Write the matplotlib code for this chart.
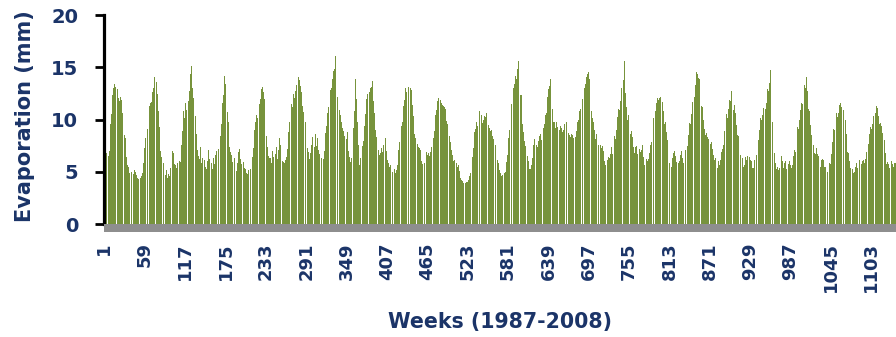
import numpy as np
import matplotlib
matplotlib.use("Agg")
import matplotlib.pyplot as plt
from matplotlib.patches import Rectangle

# Weekly pan evaporation (mm), one list of 52 weeks per year
evap_1987 = [6.2, 6.6, 6.4, 6.8, 6.7, 6.9, 6.5, 7.0, 7.4, 9.6, 10.5, 11.4, 12.3, 13.0, 12.6, 13.4, 13.1, 13.9, 13.3, 12.9, 12.1, 12.5, 11.8, 12.2, 11.5, 11.9, 10.6, 9.4, 8.8, 8.5, 8.2, 7.6, 6.4, 5.6, 5.3, 5.5, 4.9, 5.2, 5.4, 5.0, 5.3, 5.1, 4.8, 5.2, 4.9, 5.0, 4.7, 4.6, 4.4, 4.3, 4.5, 4.2]
evap_1988 = [4.4, 4.6, 4.2, 4.9, 5.8, 6.5, 7.3, 8.2, 8.8, 9.4, 9.1, 10.2, 10.8, 11.3, 11.6, 12.1, 11.7, 12.6, 13.2, 13.0, 14.1, 14.9, 15.2, 13.6, 12.4, 11.6, 10.8, 9.3, 7.9, 7.0, 6.4, 6.1, 5.5, 5.8, 5.3, 5.1, 4.7, 5.2, 4.5, 4.4, 4.8, 4.3, 4.6, 5.4, 6.1, 6.6, 7.0, 6.8, 6.3, 5.7, 5.6, 5.9]
evap_1989 = [5.4, 5.8, 6.2, 5.6, 6.0, 5.9, 6.7, 7.6, 8.9, 9.6, 10.8, 10.1, 11.2, 11.6, 10.9, 12.0, 12.2, 11.8, 12.7, 13.5, 14.4, 15.1, 16.2, 13.0, 12.1, 11.6, 11.0, 10.3, 8.6, 7.8, 7.1, 6.5, 6.9, 6.2, 7.4, 6.6, 5.8, 6.3, 5.6, 6.8, 6.1, 5.5, 5.9, 5.3, 6.0, 6.4, 7.1, 6.2, 5.6, 5.4, 5.8, 5.3]
evap_1990 = [5.9, 6.3, 5.7, 6.1, 6.6, 7.0, 6.4, 6.9, 7.2, 6.8, 7.5, 8.4, 9.6, 11.0, 11.6, 12.3, 13.1, 14.2, 13.4, 12.1, 11.4, 10.7, 9.8, 8.6, 7.4, 6.9, 6.3, 6.6, 5.9, 6.4, 6.0, 6.3, 5.5, 2.6, 5.1, 5.8, 6.4, 6.9, 7.2, 6.6, 6.2, 5.7, 6.3, 6.8, 5.9, 5.4, 5.0, 5.3, 4.9, 5.1, 4.8, 5.2]
evap_1991 = [5.0, 4.8, 5.3, 5.1, 5.6, 6.4, 7.3, 8.1, 9.0, 9.8, 9.5, 10.4, 10.1, 10.8, 11.0, 11.5, 12.0, 12.4, 12.9, 13.1, 13.6, 12.6, 12.0, 11.2, 9.6, 8.4, 7.4, 7.0, 6.5, 6.3, 6.8, 6.3, 5.8, 6.6, 7.0, 6.4, 6.9, 7.3, 6.7, 7.4, 6.8, 6.2, 7.1, 7.7, 8.2, 7.6, 6.9, 6.3, 6.0, 5.9, 6.2, 5.8]
evap_1992 = [6.1, 6.6, 6.4, 7.2, 7.9, 8.8, 9.8, 10.3, 10.9, 11.5, 11.2, 12.0, 12.4, 12.1, 13.0, 12.7, 13.3, 13.6, 13.9, 14.1, 13.8, 14.4, 13.2, 12.6, 12.0, 11.3, 10.7, 10.5, 10.0, 9.8, 9.1, 8.0, 7.3, 6.9, 6.6, 6.2, 6.8, 7.3, 7.6, 8.3, 8.8, 8.1, 7.4, 8.6, 7.9, 7.5, 8.2, 7.7, 7.1, 6.7, 6.6, 6.3]
evap_1993 = [6.3, 6.0, 6.5, 6.2, 7.0, 7.8, 8.7, 9.4, 9.8, 10.6, 11.2, 11.9, 12.3, 12.8, 13.0, 13.3, 13.9, 14.6, 15.1, 14.8, 16.1, 13.6, 12.9, 12.2, 11.6, 11.6, 10.9, 10.4, 10.0, 9.8, 9.2, 8.6, 8.9, 8.4, 8.2, 7.6, 8.1, 8.8, 7.3, 7.0, 6.4, 6.6, 5.9, 6.3, 5.6, 7.4, 9.2, 10.8, 11.7, 13.9, 12.0, 10.4]
evap_1994 = [9.8, 7.6, 6.2, 5.6, 6.3, 6.8, 7.2, 7.5, 7.9, 8.2, 9.4, 10.5, 11.4, 12.0, 12.4, 12.2, 12.8, 12.6, 13.0, 13.3, 13.1, 13.7, 14.2, 11.8, 10.6, 9.8, 9.0, 8.3, 7.7, 7.4, 7.1, 6.6, 7.0, 6.8, 7.3, 7.4, 6.9, 7.6, 7.2, 7.8, 8.2, 7.0, 6.6, 6.1, 5.8, 6.0, 5.5, 5.6, 5.2, 5.4, 5.0, 5.3]
evap_1995 = [5.0, 5.3, 4.9, 5.4, 5.2, 5.6, 6.3, 7.1, 7.8, 8.5, 9.0, 9.4, 9.8, 10.6, 11.3, 11.9, 12.4, 13.0, 12.6, 13.2, 13.5, 13.1, 13.6, 13.9, 13.0, 12.8, 12.6, 11.4, 10.3, 9.2, 8.6, 8.2, 7.6, 7.9, 7.7, 7.4, 7.0, 7.3, 7.1, 6.5, 6.0, 5.7, 5.9, 5.6, 5.8, 6.2, 6.4, 6.9, 6.6, 6.3, 6.8, 6.5]
evap_1996 = [6.6, 6.9, 7.4, 7.8, 8.0, 8.2, 8.9, 9.6, 10.4, 10.9, 11.3, 11.8, 12.1, 12.7, 12.2, 11.9, 11.6, 11.1, 11.4, 11.3, 10.8, 11.2, 11.0, 10.3, 9.9, 9.6, 9.1, 9.1, 8.4, 7.8, 7.4, 7.1, 6.6, 6.3, 6.0, 6.1, 5.9, 5.7, 5.8, 5.5, 5.6, 5.6, 5.1, 4.7, 4.4, 4.2, 4.0, 4.1, 3.9, 4.0, 4.1, 3.9]
evap_1997 = [4.0, 4.1, 4.0, 4.2, 4.3, 4.6, 4.9, 5.3, 5.6, 6.4, 7.3, 8.1, 8.8, 9.1, 9.6, 9.8, 9.4, 10.0, 10.3, 10.8, 11.2, 11.6, 10.4, 9.7, 10.1, 10.0, 10.3, 10.8, 10.2, 10.6, 10.1, 9.7, 9.5, 9.2, 9.3, 8.9, 9.0, 8.8, 8.4, 8.1, 8.3, 7.9, 7.6, 7.2, 6.6, 6.1, 5.8, 5.6, 5.2, 4.9, 4.8, 4.6]
evap_1998 = [4.7, 4.8, 4.6, 4.9, 5.0, 5.4, 5.9, 6.6, 7.3, 8.2, 9.0, 9.8, 10.7, 11.5, 12.3, 12.6, 13.0, 13.4, 13.8, 14.2, 13.9, 14.4, 14.8, 15.6, 14.0, 13.1, 12.3, 12.3, 11.0, 9.6, 8.8, 8.2, 7.9, 7.5, 7.1, 7.1, 6.5, 6.0, 5.7, 5.3, 5.3, 5.8, 5.6, 6.3, 7.2, 7.6, 8.1, 8.5, 7.9, 7.6, 7.4, 7.8]
evap_1999 = [7.9, 8.4, 8.2, 8.6, 8.0, 8.3, 8.7, 9.2, 9.6, 10.1, 10.4, 10.6, 11.3, 12.2, 12.9, 13.6, 13.2, 13.9, 14.6, 12.4, 11.0, 9.8, 9.4, 9.8, 9.2, 9.6, 9.8, 9.3, 9.7, 9.5, 9.0, 9.4, 8.9, 9.2, 8.8, 9.3, 9.0, 9.6, 10.0, 9.4, 9.8, 8.6, 8.2, 8.7, 8.5, 8.8, 8.3, 8.6, 8.1, 8.5, 8.2, 8.7]
evap_2000 = [8.5, 8.3, 8.9, 9.4, 9.8, 10.0, 10.4, 10.8, 11.0, 11.3, 11.6, 12.0, 12.4, 12.7, 13.0, 13.4, 13.8, 14.1, 14.4, 14.9, 14.5, 13.9, 13.3, 12.2, 10.8, 10.1, 9.5, 9.8, 9.0, 8.4, 8.1, 8.6, 11.0, 8.0, 7.6, 7.2, 7.1, 7.6, 7.3, 7.9, 7.5, 7.0, 6.5, 6.0, 5.6, 5.9, 5.6, 6.1, 6.4, 6.0, 6.3, 6.7]
evap_2001 = [6.8, 7.4, 6.7, 7.8, 7.5, 8.4, 8.1, 9.3, 9.0, 10.2, 9.8, 11.0, 10.9, 12.1, 11.8, 13.0, 12.6, 13.9, 13.8, 15.6, 13.0, 12.5, 11.2, 11.3, 10.0, 10.4, 9.3, 9.5, 8.6, 8.9, 8.2, 8.3, 7.4, 7.6, 6.8, 7.4, 6.6, 7.5, 6.7, 6.9, 6.4, 7.2, 6.9, 7.3, 7.1, 7.6, 6.6, 6.4, 5.6, 5.9, 5.4, 6.2]
evap_2002 = [6.0, 6.4, 6.2, 6.8, 6.4, 7.6, 7.8, 8.9, 9.0, 10.1, 9.9, 10.9, 10.8, 11.6, 11.2, 12.1, 11.9, 12.7, 12.1, 12.2, 11.3, 11.4, 11.7, 10.8, 10.6, 9.6, 9.8, 8.8, 8.8, 8.0, 7.6, 6.3, 5.8, 5.0, 5.5, 5.5, 6.3, 5.7, 6.8, 7.0, 7.9, 6.5, 5.9, 5.1, 5.0, 5.8, 6.0, 6.7, 6.6, 7.0, 6.2, 6.3]
evap_2003 = [5.8, 6.5, 6.4, 7.1, 6.8, 7.4, 7.5, 8.5, 8.7, 9.7, 9.6, 10.6, 10.5, 11.7, 11.6, 12.3, 12.2, 13.3, 13.4, 14.5, 14.4, 15.7, 14.0, 13.9, 12.7, 12.6, 11.3, 11.2, 10.1, 10.0, 9.1, 9.3, 8.5, 8.7, 8.0, 8.3, 8.1, 7.5, 8.3, 7.7, 7.8, 7.1, 7.2, 6.6, 6.8, 6.1, 6.3, 5.7, 6.1, 5.4, 6.0, 5.5]
evap_2004 = [5.6, 6.1, 5.8, 6.9, 7.2, 8.0, 7.6, 8.9, 9.0, 9.9, 10.5, 10.1, 11.2, 11.0, 11.9, 12.2, 11.8, 12.7, 11.6, 12.0, 10.9, 11.4, 10.2, 10.6, 9.5, 9.9, 8.5, 8.4, 7.3, 7.4, 6.6, 6.9, 5.9, 6.3, 5.5, 5.9, 5.6, 6.4, 5.5, 6.1, 6.5, 5.8, 5.9, 6.4, 6.1, 5.7, 6.0, 5.4, 5.7, 5.4, 6.1, 5.6]
evap_2005 = [5.7, 6.6, 6.8, 7.9, 8.0, 9.0, 9.1, 10.1, 10.0, 10.9, 10.4, 11.1, 10.7, 11.5, 11.0, 11.6, 11.8, 12.9, 12.7, 13.6, 13.5, 14.7, 12.9, 12.3, 9.8, 8.7, 6.8, 6.8, 5.8, 5.9, 5.3, 5.5, 4.9, 5.2, 5.4, 6.1, 5.9, 6.5, 6.0, 5.8, 5.4, 5.8, 5.5, 6.0, 5.3, 5.8, 5.2, 5.7, 6.0, 5.4, 5.6, 5.4]
evap_2006 = [5.8, 5.6, 6.5, 6.4, 7.1, 6.9, 8.0, 8.3, 9.3, 9.1, 10.1, 10.0, 10.9, 10.6, 11.6, 11.5, 12.5, 12.0, 13.3, 13.0, 13.9, 14.1, 12.7, 12.4, 11.0, 10.8, 9.6, 9.5, 8.5, 8.4, 7.6, 7.6, 6.8, 7.0, 6.7, 7.3, 7.1, 6.7, 6.5, 5.8, 5.9, 5.5, 6.1, 5.8, 6.2, 6.1, 5.9, 5.5, 5.5, 4.9, 5.2, 5.0]
evap_2007 = [5.5, 5.3, 5.8, 5.7, 6.5, 6.7, 7.8, 7.9, 9.1, 9.0, 9.9, 9.8, 10.6, 10.2, 11.0, 10.6, 11.4, 11.0, 11.6, 11.2, 11.7, 11.4, 10.9, 10.8, 9.9, 10.0, 8.6, 8.3, 6.9, 6.8, 5.9, 6.0, 5.4, 5.7, 5.0, 5.3, 4.9, 5.2, 5.0, 5.5, 5.2, 5.8, 5.4, 5.9, 5.6, 6.1, 5.7, 6.2, 5.7, 6.0, 5.6, 6.1]
evap_2008 = [5.8, 6.4, 6.2, 6.9, 6.7, 7.6, 7.7, 8.6, 8.5, 9.3, 9.1, 9.9, 9.6, 10.3, 10.0, 10.8, 10.6, 11.3, 11.0, 11.1, 10.3, 10.3, 9.6, 9.7, 9.1, 9.4, 8.7, 8.9, 8.2, 8.0, 6.8, 6.6, 5.7, 5.9, 5.4, 5.7, 5.4, 5.8, 5.5, 6.0, 5.7, 6.1, 5.5, 5.8, 5.4, 5.8, 5.5, 5.7, 5.4, 6.0, 5.5, 5.8]

yearly = [evap_1987, evap_1988, evap_1989, evap_1990, evap_1991, evap_1992,
          evap_1993, evap_1994, evap_1995, evap_1996, evap_1997, evap_1998,
          evap_1999, evap_2000, evap_2001, evap_2002, evap_2003, evap_2004,
          evap_2005, evap_2006, evap_2007, evap_2008]
for yr in yearly:
    assert len(yr) == 52

evaporation = np.concatenate(yearly)
weeks = np.arange(1, len(evaporation) + 1)
tick_weeks = [1, 59, 117, 175, 233, 291, 349, 407, 465, 523, 581, 639,
              697, 755, 813, 871, 929, 987, 1045, 1103]

NAVY = "#1B3468"
GREEN = "#77933C"
W, H = 896, 337

fig = plt.figure(figsize=(W / 100, H / 100), dpi=100)
ax_left, ax_bottom, ax_w, ax_h = 104, 113, 792, 209
ax = fig.add_axes([ax_left / W, ax_bottom / H, ax_w / W, ax_h / H])

ax.bar(weeks, evaporation, width=0.85, color=GREEN, linewidth=0)

ax.set_xlim(0.5, 0.5 + ax_w / 0.696)
ax.set_ylim(0, 20)
ax.set_yticks([0, 5, 10, 15, 20])
ax.set_xticks(tick_weeks)
ax.set_xticklabels([str(t) for t in tick_weeks])

for side in ("top", "right", "bottom"):
    ax.spines[side].set_visible(False)
ax.spines["left"].set_color("black")
ax.spines["left"].set_linewidth(2.3)

# grey category-axis band under the bars
band_h = 8 / ax_h
ax.add_patch(Rectangle((0, -band_h), 1, band_h, transform=ax.transAxes,
                       facecolor="#8E8E8E", edgecolor="none", clip_on=False,
                       zorder=3))

ax.tick_params(axis="y", direction="out", length=6.5, width=2.0,
               color="black", pad=12, labelsize=14, labelcolor=NAVY)
ax.tick_params(axis="x", length=0, pad=13, labelsize=13, labelcolor=NAVY,
               labelrotation=90)
for lbl in ax.get_yticklabels() + ax.get_xticklabels():
    lbl.set_fontweight("bold")

fig.text(25 / W, 1 - 116 / H, "Evaporation (mm)", rotation=90, ha="center",
         va="center", fontsize=15, fontweight="bold", color=NAVY)
fig.text(500 / W, 1 - 322 / H, "Weeks (1987-2008)", ha="center", va="center",
         fontsize=14.8, fontweight="bold", color=NAVY)

fig.savefig("out.png", dpi=100)
